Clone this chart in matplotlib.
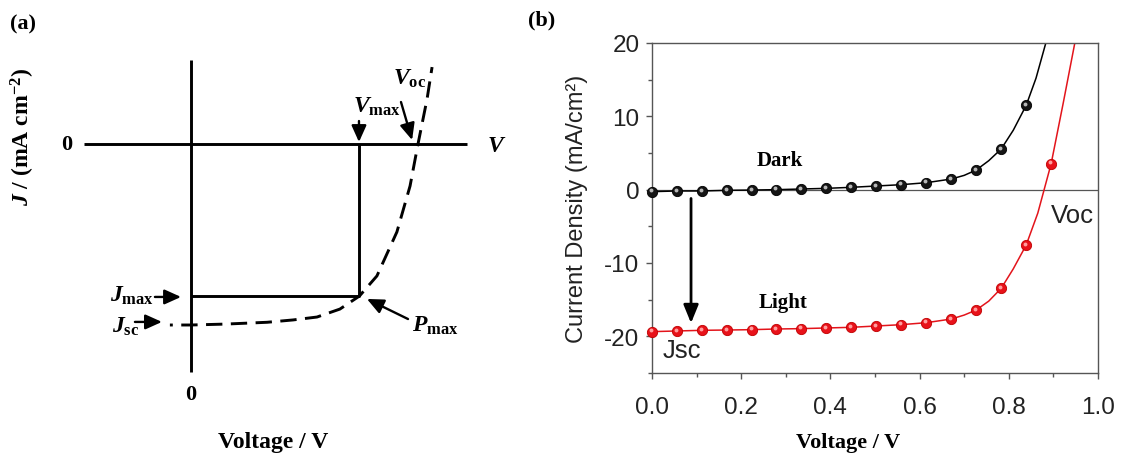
import matplotlib
matplotlib.use("Agg")
import matplotlib.pyplot as plt
from matplotlib.ticker import MultipleLocator, FormatStrFormatter
from matplotlib.transforms import offset_copy

plt.rcParams["axes.unicode_minus"] = False
plt.rcParams["mathtext.fontset"] = "custom"
plt.rcParams["mathtext.it"] = "Liberation Serif:italic:bold"
plt.rcParams["mathtext.rm"] = "Liberation Serif:bold"
plt.rcParams["mathtext.bf"] = "Liberation Serif:bold"

# ---------------- (a) schematic J-V curve (normalised units) ----------------
v_max, j_max = 0.74, -0.84      # maximum power point
v_oc, j_sc = 1.0, -1.0          # open-circuit voltage / short-circuit current
schem_v = [-0.093, 0.0, 0.15, 0.335, 0.45, 0.555, 0.656, 0.742, 0.819, 0.907,
           0.965, 1.0, 1.040, 1.062]
schem_j = [-1.0, -1.0, -0.995, -0.985, -0.972, -0.956, -0.912, -0.840, -0.729,
           -0.486, -0.232, 0.0, 0.249, 0.425]

# ---------------- (b) measured J-V curves ----------------
voltage = [0.0, 0.056, 0.112, 0.168, 0.224, 0.279, 0.335, 0.391, 0.447, 0.503,
           0.559, 0.615, 0.671, 0.727, 0.783, 0.839, 0.895]
dark_j = [-0.27, -0.18, -0.18, -0.09, -0.05, 0.0, 0.09, 0.18, 0.32, 0.5,
          0.68, 0.95, 1.45, 2.68, 5.55, 11.5]
light_j = [-19.36, -19.27, -19.18, -19.14, -19.09, -19.0, -18.95, -18.86, -18.77,
           -18.59, -18.41, -18.14, -17.64, -16.41, -13.45, -7.55, 3.55]

# fitted curves drawn through the measurements
dark_fit_v = voltage[:13] + [0.70, 0.727, 0.755, 0.783, 0.81, 0.839, 0.861, 0.883]
dark_fit_j = dark_j[:13] + [1.95, 2.68, 3.95, 5.55, 8.1, 11.5, 15.2, 20.0]
light_fit_v = voltage[:13] + [0.70, 0.727, 0.755, 0.783, 0.81, 0.839, 0.865, 0.895,
                              0.922, 0.948]
light_fit_j = light_j[:13] + [-17.1, -16.41, -15.2, -13.45, -10.8, -7.55, -3.2, 3.55,
                              11.8, 20.0]

x_ticks = [0.0, 0.2, 0.4, 0.6, 0.8, 1.0]
y_ticks = [-20, -10, 0, 10, 20]

W, H = 1121, 464
fig = plt.figure(figsize=(W / 100, H / 100), dpi=100)

SERIF = "Liberation Serif"
SANS = "Liberation Sans"

# ======================= panel (a) =======================
ax_a = fig.add_axes([0, 0, 530 / W, 1])
ax_a.set_xlim(-191 / 227, (530 - 191) / 227)
ax_a.set_ylim((145 - 464) / 181, 145 / 181)
ax_a.axis("off")

lw = 2.1
ax_a.plot([-0.471, 1.216], [0, 0], color="black", lw=lw, solid_capstyle="butt")
ax_a.plot([0, 0], [0.464, -1.26], color="black", lw=lw, solid_capstyle="butt")
ax_a.plot([0, v_max, v_max], [j_max, j_max, 0], color="black", lw=lw,
          solid_capstyle="butt")
ax_a.plot(schem_v, schem_j, color="black", lw=lw, ls=(4.6, (5.6, 2.9)),
          dash_capstyle="butt")

arrow_kw = dict(arrowstyle="-|>,head_length=1.0,head_width=0.45", lw=1.7,
                color="black", shrinkA=0, shrinkB=0, mutation_scale=10)
ax_a.annotate("", xy=(v_max, 0.011), xytext=(v_max, 0.127), arrowprops=arrow_kw)
ax_a.annotate("", xy=(0.974, 0.022), xytext=(0.925, 0.232), arrowprops=arrow_kw)
ax_a.annotate("", xy=(-0.044, -0.845), xytext=(-0.159, -0.845), arrowprops=arrow_kw)
ax_a.annotate("", xy=(-0.128, -0.983), xytext=(-0.247, -0.983), arrowprops=arrow_kw)
ax_a.annotate("", xy=(0.775, -0.856), xytext=(0.956, -0.967), arrowprops=arrow_kw)

lab = dict(fontsize=17, color="black")
ax_a.text(0.714, 0.177, r"$V_{\mathrm{max}}$", ha="left", va="baseline", **lab)
ax_a.text(0.890, 0.331, r"$V_{\mathrm{oc}}$", ha="left", va="baseline", **lab)
ax_a.text(-0.357, -0.867, r"$J_{\mathrm{max}}$", ha="left", va="baseline", **lab)
ax_a.text(-0.348, -1.039, r"$J_{\mathrm{sc}}$", ha="left", va="baseline", **lab)
ax_a.text(0.974, -1.033, r"$P_{\mathrm{max}}$", ha="left", va="baseline", **lab)
ax_a.text(1.304, 0.0, r"$V$", ha="left", va="center", **lab)

ax_a.text(-0.546, 0.0, "0", family=SERIF, weight="bold", fontsize=16,
          ha="center", va="center")
ax_a.text(0.0, -1.381, "0", family=SERIF, weight="bold", fontsize=16,
          ha="center", va="center")
ax_a.text(0.361, -1.641, "Voltage / V", family=SERIF, weight="bold", fontsize=17,
          ha="center", va="center")
ax_a.text(-0.740, 0.044, r"$J$ / (mA cm$^{\mathrm{-2}}$)", family=SERIF,
          weight="bold", fontsize=17, rotation=90, ha="center", va="center")

fig.text(10 / W, 1 - 24 / H, "(a)", family=SERIF, weight="bold", fontsize=16,
         ha="left", va="center")
fig.text(528 / W, 1 - 20 / H, "(b)", family=SERIF, weight="bold", fontsize=16,
         ha="left", va="center")

# ======================= panel (b) =======================
ax_b = fig.add_axes([652 / W, (H - 374) / H, 446 / W, 330 / H])
ax_b.set_xlim(0.0, 1.0)
ax_b.set_ylim(-25, 20)

ax_b.axhline(0, color="#555555", lw=0.9, zorder=1)

ax_b.plot(dark_fit_v, dark_fit_j, color="black", lw=1.1, zorder=2)
ax_b.plot(light_fit_v, light_fit_j, color="#e3141b", lw=1.1, zorder=2)

hl = offset_copy(ax_b.transData, fig=fig, x=-1.4, y=1.4, units="dots")
ax_b.plot(voltage[:len(dark_j)], dark_j, "o", ms=7.4, color="#151515",
          mec="#000000", mew=0.6, zorder=3, clip_on=False)
ax_b.plot(voltage[:len(dark_j)], dark_j, "o", ms=2.8, color="#b8b8b8", mew=0,
          transform=hl, zorder=4, clip_on=False)
ax_b.plot(voltage, light_j, "o", ms=7.4, color="#e8121a", mec="#c00000",
          mew=0.6, zorder=3, clip_on=False)
ax_b.plot(voltage, light_j, "o", ms=2.8, color="#ff9e9e", mew=0,
          transform=hl, zorder=4, clip_on=False)

ax_b.annotate("", xy=(0.0875, -18.2), xytext=(0.0875, -1.2),
              arrowprops=dict(arrowstyle="-|>,head_length=1.1,head_width=0.45",
                              lw=2.0, color="black", shrinkA=0, shrinkB=0,
                              mutation_scale=10))

ax_b.text(0.287, 4.0, "Dark", family=SERIF, weight="bold", fontsize=15,
          ha="center", va="center")
ax_b.text(0.293, -15.3, "Light", family=SERIF, weight="bold", fontsize=15,
          ha="center", va="center")
ax_b.text(0.894, -3.45, "Voc", family=SANS, fontsize=18.5, color="#222222",
          ha="left", va="center")
ax_b.text(0.024, -21.9, "Jsc", family=SANS, fontsize=18.5, color="#222222",
          ha="left", va="center")

for s in ax_b.spines.values():
    s.set_color("#555555")
    s.set_linewidth(1.0)

ax_b.set_xticks(x_ticks)
ax_b.set_yticks(y_ticks)
ax_b.xaxis.set_minor_locator(MultipleLocator(0.1))
ax_b.yaxis.set_minor_locator(MultipleLocator(5))
ax_b.xaxis.set_major_formatter(FormatStrFormatter("%.1f"))
ax_b.yaxis.set_major_formatter(FormatStrFormatter("%d"))
ax_b.tick_params(which="major", direction="out", length=4.5, width=1.0,
                 color="#555555", labelsize=17.5, labelcolor="#222222", pad=4.5)
ax_b.tick_params(which="minor", direction="out", length=2.8, width=1.0,
                 color="#555555")
ax_b.tick_params(axis="x", which="major", pad=12)
for t in ax_b.get_xticklabels() + ax_b.get_yticklabels():
    t.set_family(SANS)

fig.text(577 / W, 1 - 209 / H, "Current Density (mA/cm²)", family=SANS,
         fontsize=17, color="#222222", rotation=90, ha="center", va="center")
fig.text(848 / W, 1 - 443 / H, "Voltage / V", family=SERIF, weight="bold",
         fontsize=16, ha="center", va="center")

fig.savefig("out.png", dpi=100)
